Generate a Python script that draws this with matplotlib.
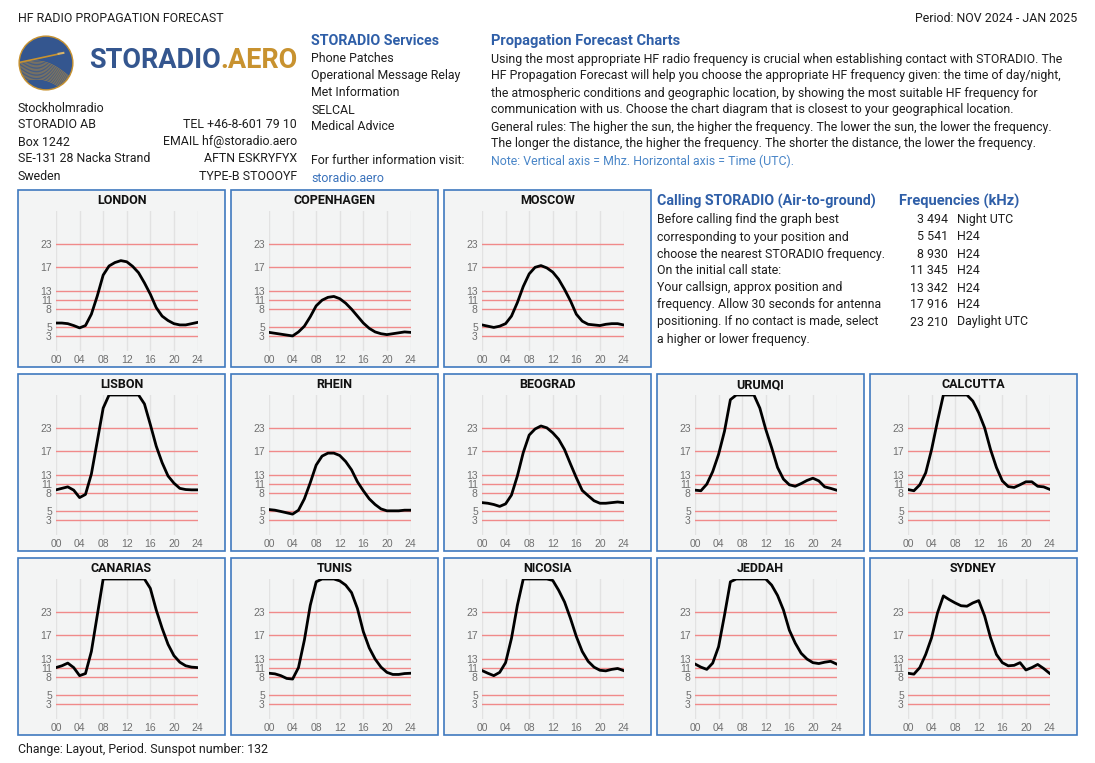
import matplotlib.pyplot as plt
import numpy as np
from matplotlib.patches import Circle, Rectangle

W, H = 1095, 763

HOURS = list(range(25))
X_TICKS = [0, 4, 8, 12, 16, 20, 24]
X_TICK_LABELS = ["00", "04", "08", "12", "16", "20", "24"]
Y_TICKS = [3, 5, 8, 11, 13, 17, 23]

# the MHz axis of the original is not linear: frequency -> share of axis height
SCALE_MHZ = [0, 3, 5, 8, 11, 13, 17, 23, 30]
SCALE_POS = [0, 44, 71, 128, 155, 182, 254, 323, 422]

CITIES = ["LONDON", "COPENHAGEN", "MOSCOW",
          "LISBON", "RHEIN", "BEOGRAD", "URUMQI", "CALCUTTA",
          "CANARIAS", "TUNIS", "NICOSIA", "JEDDAH", "SYDNEY"]

london = [5.7, 5.7, 5.6, 5.3, 4.9, 5.3, 7.1, 11.8, 15.6, 17.2, 18.1, 18.6, 18.3,
          17.1, 16.0, 14.3, 12.2, 8.3, 6.8, 6.1, 5.6, 5.4, 5.4, 5.6, 5.8]
copenhagen = [3.9, 3.7, 3.5, 3.3, 3.1, 4.0, 5.2, 6.7, 8.9, 10.8, 11.5, 11.7, 11.2,
              9.8, 7.9, 6.8, 5.7, 4.8, 4.0, 3.6, 3.4, 3.6, 3.8, 4.0, 3.9]
moscow = [5.4, 5.2, 5.0, 5.2, 5.6, 6.8, 10.0, 13.7, 15.8, 16.9, 17.3, 16.8, 16.1,
          14.9, 13.2, 10.6, 7.1, 6.0, 5.5, 5.4, 5.3, 5.5, 5.6, 5.6, 5.4]
lisbon = [8.9, 9.4, 9.9, 8.8, 7.2, 7.7, 13.1, 19.5, 27.2, 30, 30, 30, 30,
          30, 30, 28.1, 23.7, 18.2, 15.0, 12.7, 11.1, 9.4, 9.0, 8.9, 8.9]
rhein = [5.3, 5.2, 5.0, 4.7, 4.4, 5.2, 7.0, 11.2, 14.6, 16.1, 16.6, 16.6, 16.2,
         15.2, 13.8, 11.4, 8.6, 7.0, 6.1, 5.4, 5.1, 5.1, 5.1, 5.2, 5.2]
beograd = [6.4, 6.3, 6.1, 5.8, 6.2, 7.6, 12.7, 16.7, 21.1, 22.7, 23.4, 23.0, 21.7,
           20.0, 17.3, 14.8, 12.3, 8.7, 7.5, 6.7, 6.3, 6.3, 6.4, 6.5, 6.4]
urumqi = [8.8, 8.6, 10.8, 13.5, 16.4, 22.1, 29.0, 30, 30, 30, 30, 27.2, 22.6,
          17.8, 14.2, 12.0, 10.6, 10.1, 11.0, 11.7, 12.2, 11.6, 9.9, 9.4, 8.8]
calcutta = [9.0, 8.6, 10.6, 13.3, 17.3, 24.4, 30, 30, 30, 30, 30, 28.7, 26.2,
            23.0, 17.3, 14.2, 11.6, 10.0, 9.7, 10.6, 11.4, 11.4, 10.1, 9.9, 9.1]
canarias = [11.0, 11.4, 12.0, 11.0, 8.3, 9.0, 14.2, 22.1, 30, 30, 30, 30, 30,
            30, 30, 30, 28.0, 23.4, 18.7, 15.4, 13.5, 12.2, 11.4, 11.1, 11.0]
tunis = [9.1, 8.9, 8.3, 7.7, 7.6, 11.0, 16.1, 24.4, 29.4, 30, 30, 30, 29.6,
         28.7, 27.1, 23.7, 17.8, 14.8, 12.9, 11.1, 9.4, 8.7, 8.7, 9.0, 9.1]
nicosia = [10.0, 9.1, 8.3, 9.4, 12.1, 16.4, 24.4, 30, 30, 30, 30, 30, 29.7,
           27.6, 25.1, 21.3, 16.7, 14.2, 12.4, 11.1, 10.1, 9.9, 10.4, 10.7, 10.0]
jeddah = [11.8, 11.1, 10.4, 12.0, 15.0, 22.1, 29.4, 30, 30, 30, 30, 30, 30,
          28.7, 26.5, 23.4, 18.2, 15.6, 13.9, 12.9, 12.1, 11.9, 12.2, 12.4, 11.8]
sydney = [9.1, 8.8, 11.0, 13.7, 16.5, 22.7, 26.4, 25.6, 24.9, 24.3, 24.2, 24.9, 25.4,
          21.9, 16.5, 13.7, 12.1, 11.4, 11.5, 12.1, 10.2, 11.0, 11.7, 10.7, 9.1]

CITY_VALUES = [london, copenhagen, moscow, lisbon, rhein, beograd, urumqi,
               calcutta, canarias, tunis, nicosia, jeddah, sydney]

FREQ_KHZ = ["3 494", "5 541", "8 930", "11 345", "13 342", "17 916", "23 210"]
FREQ_USE = ["Night UTC", "H24", "H24", "H24", "H24", "H24", "Daylight UTC"]

ADDRESS = ["Stockholmradio", "STORADIO AB", "Box 1242", "SE-131 28 Nacka Strand", "Sweden"]
CONTACT = ["TEL +46-8-601 79 10", "EMAIL hf@storadio.aero", "AFTN ESKRYFYX", "TYPE-B STOOOYF"]
SERVICES = ["Phone Patches", "Operational Message Relay", "Met Information", "SELCAL",
            "Medical Advice"]
INTRO = [
    "Using the most appropriate HF radio frequency is crucial when establishing contact with STORADIO. The",
    "HF Propagation Forecast will help you choose the appropriate HF frequency given: the time of day/night,",
    "the atmospheric conditions and geographic location, by showing the most suitable HF frequency for",
    "communication with us. Choose the chart diagram that is closest to your geographical location.",
    "General rules: The higher the sun, the higher the frequency. The lower the sun, the lower the frequency.",
    "The longer the distance, the higher the frequency. The shorter the distance, the lower the frequency.",
]
CALLING = [
    "Before calling find the graph best",
    "corresponding to your position and",
    "choose the nearest STORADIO frequency.",
    "On the initial call state:",
    "Your callsign, approx position and",
    "frequency. Allow 30 seconds for antenna",
    "positioning. If no contact is made, select",
    "a higher or lower frequency.",
]

BLUE = "#2f5fa8"
GOLD = "#c8922f"
INK = "#1e1e1e"

plt.rcParams["font.family"] = ["Roboto", "DejaVu Sans"]

fig = plt.figure(figsize=(W / 100, H / 100), dpi=100)


def text(x, y, s, **kw):
    kw.setdefault("fontsize", 8.9)
    kw.setdefault("color", INK)
    return fig.text(x / W, 1 - y / H, s, va="center", **kw)


# header
text(18, 18, "HF RADIO PROPAGATION FORECAST")
text(1077, 18, "Period: NOV 2024 - JAN 2025", ha="right")

# logo
logo = fig.add_axes([18 / W, 1 - 91 / H, 56 / W, 56 / H])
logo.set_xlim(-1, 1)
logo.set_ylim(-1, 1)
logo.set_aspect("equal")
logo.axis("off")
disc = Circle((0, 0), 0.96, facecolor="#34568f", edgecolor=GOLD, lw=1.0)
logo.add_patch(disc)
t = np.linspace(-1, 1, 80)
for k in range(14):
    wave = -0.05 - 0.55 * (t + 1) / 2 + 0.35 * np.sin((t + 1) * 1.6) - 0.05 * k
    ln, = logo.plot(t, wave, color=GOLD, lw=0.4, alpha=0.8)
    ln.set_clip_path(disc)
trail, = logo.plot([-0.95, 0.45], [0.02, 0.32], color=GOLD, lw=1.2)
trail.set_clip_path(disc)
logo.plot([0.45, 0.62], [0.33, 0.36], color="#d8b46a", lw=1.5)

brand = text(89, 61, "STORADIO", fontsize=19.5, fontweight="bold", color="#34568f")
bb = brand.get_window_extent(fig.canvas.get_renderer())
fig.text(bb.x1 / W, 1 - 61 / H, ".AERO", va="center", fontsize=19.5,
         fontweight="bold", color=GOLD)

# address block
for i, line in enumerate(ADDRESS):
    text(18, 108 + 17 * i, line)
for i, line in enumerate(CONTACT):
    text(297, 125 + 17 * i, line, ha="right")

# services
text(311, 41, "STORADIO Services", fontsize=10.3, fontweight="bold", color=BLUE)
for i, line in enumerate(SERVICES):
    text(311, 59 + 17 * i, line)
text(311, 161, "For further information visit:")
text(311, 178, "storadio.aero", color="#3a72bb")

# forecast explanation
text(491, 41, "Propagation Forecast Charts", fontsize=10.5, fontweight="bold", color=BLUE)
for i, line in enumerate(INTRO):
    text(491, 59 + 17 * i, line)
text(491, 161, "Note: Vertical axis = Mhz. Horizontal axis = Time (UTC).", color="#4a86c8")

# calling
text(657, 201, "Calling STORADIO (Air-to-ground)", fontsize=10.3, fontweight="bold", color=BLUE)
for i, line in enumerate(CALLING):
    text(657, 220 + 17 * i, line)
text(899, 201, "Frequencies (kHz)", fontsize=10.5, fontweight="bold", color=BLUE)
for i, (khz, use) in enumerate(zip(FREQ_KHZ, FREQ_USE)):
    text(948, 220 + 17 * i, khz, ha="right")
    text(957, 220 + 17 * i, use)

text(18, 750, "Change: Layout, Period. Sunspot number: 132")

# charts
BOX_X = [18, 231, 444, 657, 870]
BOX_Y = [190, 374, 558]
BOX_W, BOX_H = 207, 177
CELLS = [(0, 0), (0, 1), (0, 2),
         (1, 0), (1, 1), (1, 2), (1, 3), (1, 4),
         (2, 0), (2, 1), (2, 2), (2, 3), (2, 4)]

pos = np.array(SCALE_POS) / SCALE_POS[-1]


def forward(v):
    return np.interp(v, SCALE_MHZ, pos)


def inverse(v):
    return np.interp(v, pos, SCALE_MHZ)


for name, values, (r, c) in zip(CITIES, CITY_VALUES, CELLS):
    bx, by = BOX_X[c], BOX_Y[r]
    fig.add_artist(Rectangle((bx / W, 1 - (by + BOX_H) / H), BOX_W / W, BOX_H / H,
                             transform=fig.transFigure, facecolor="#f3f4f4",
                             edgecolor="#3f79bf", lw=1.2, zorder=0))
    text(bx + BOX_W / 2, by + 11, name, ha="center", fontsize=9, fontweight="bold",
         color="#111111")
    ax = fig.add_axes([(bx + 38) / W, 1 - (by + 161) / H, 141.5 / W, 140 / H])
    ax.set_facecolor("none")
    ax.set_yscale("function", functions=(forward, inverse))
    ax.set_xlim(0, 24)
    ax.set_ylim(0, 30)
    ax.set_xticks(X_TICKS, X_TICK_LABELS)
    ax.set_yticks(Y_TICKS, [str(v) for v in Y_TICKS])
    ax.minorticks_off()
    for v in X_TICKS:
        ax.axvline(v, color="#e2e2e2", lw=1, zorder=1)
    for v in Y_TICKS:
        ax.axhline(v, color="#f08a8a", lw=1, zorder=2)
    ax.plot(HOURS, values, color="black", lw=2.0, zorder=3, solid_joinstyle="round")
    for s in ax.spines.values():
        s.set_visible(False)
    ax.tick_params(length=0, labelsize=7.5, labelcolor="#6f6f6f", pad=3)
    for lab in ax.get_xticklabels() + ax.get_yticklabels():
        lab.set_family("Liberation Sans")

fig.savefig("out.png", dpi=100, facecolor="white")
